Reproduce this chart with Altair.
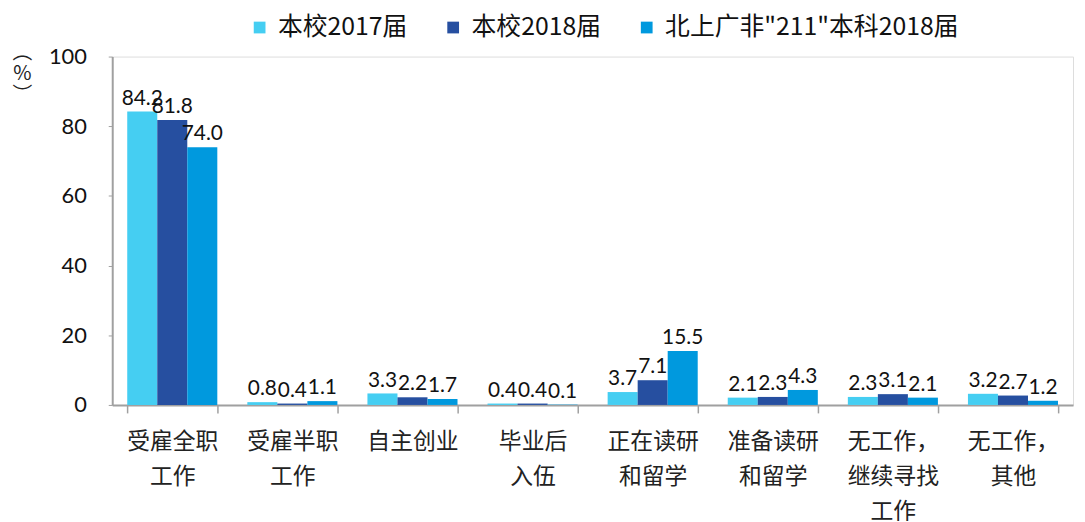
import altair as alt
import pandas as pd

categories = ["受雇全职\n工作", "受雇半职\n工作", "自主创业", "毕业后\n入伍",
              "正在读研\n和留学", "准备读研\n和留学", "无工作，\n继续寻找\n工作", "无工作，\n其他"]
series = ["本校2017届", "本校2018届", "北上广非\"211\"本科2018届"]
v2017 = [84.2, 0.8, 3.3, 0.4, 3.7, 2.1, 2.3, 3.2]
v2018 = [81.8, 0.4, 2.2, 0.4, 7.1, 2.3, 3.1, 2.7]
vbsg = [74.0, 1.1, 1.7, 0.1, 15.5, 4.3, 2.1, 1.2]
colors = ["#45CEF2", "#264FA0", "#0099DE"]
y_ticks = [0, 20, 40, 60, 80, 100]

rows = []
for s, vals in zip(series, [v2017, v2018, vbsg]):
    for c, v in zip(categories, vals):
        rows.append({"cat": c, "series": s, "value": v, "label": f"{v:.1f}"})
df = pd.DataFrame(rows)

x = alt.X("cat:N", sort=categories,
          scale=alt.Scale(paddingInner=0.25, paddingOuter=0.125),
          axis=alt.Axis(title=None, labelAngle=0, labelFont="Noto Sans CJK SC",
                        labelFontSize=23, labelColor="#222222",
                        labelExpr="split(datum.label, '\\n')", labelLineHeight=35,
                        labelPadding=18, labelBaseline="top",
                        tickBand="extent", tickSize=8, tickColor="#A0A0A0", tickWidth=1.5,
                        domainColor="#A0A0A0", domainWidth=2))
xo = alt.XOffset("series:N", sort=series)
y = alt.Y("value:Q", scale=alt.Scale(domain=[0, 100], nice=False),
          axis=alt.Axis(values=y_ticks, title=["︵", "%", "︶"], titleAngle=0,
                        titleX=-91, titleY=-14, titleAlign="center", titleBaseline="top",
                        titleFont="Noto Sans CJK SC", titleFontSize=20, titleFontWeight="normal",
                        titleLineHeight=21, titleColor="#222222",
                        labelFont="Lato", labelFontSize=22, labelColor="#111111",
                        labelPadding=22, tickSize=4, tickColor="#A0A0A0",
                        domainColor="#A0A0A0", domainWidth=2, grid=False))
color = alt.Color("series:N", sort=series,
                  scale=alt.Scale(domain=series, range=colors),
                  legend=alt.Legend(title=None, orient="none", direction="horizontal",
                                    legendX=136, legendY=-42, symbolType="square",
                                    symbolSize=140, symbolStrokeWidth=0, labelFont="Noto Sans CJK SC",
                                    labelFontSize=25, labelColor="#111111", labelOffset=6,
                                    columnPadding=33, padding=0, labelLimit=400))

bars = alt.Chart(df).mark_bar().encode(x=x, xOffset=xo, y=y, color=color)
labels = alt.Chart(df).mark_text(font="Lato", fontSize=21, color="#111111",
                                 baseline="alphabetic", dy=-7).encode(
    x=alt.X("cat:N", sort=categories), xOffset=xo, y="value:Q", text="label:N")

chart = (bars + labels).properties(
    width=968, height=351,
    autosize=alt.AutoSizeParams(type="none"),
    padding={"left": 105, "top": 47, "right": 4, "bottom": 115},
).configure_view(stroke=None).configure(background="white")

chart.save("out.html", embed_options={"renderer": "svg", "actions": False})
